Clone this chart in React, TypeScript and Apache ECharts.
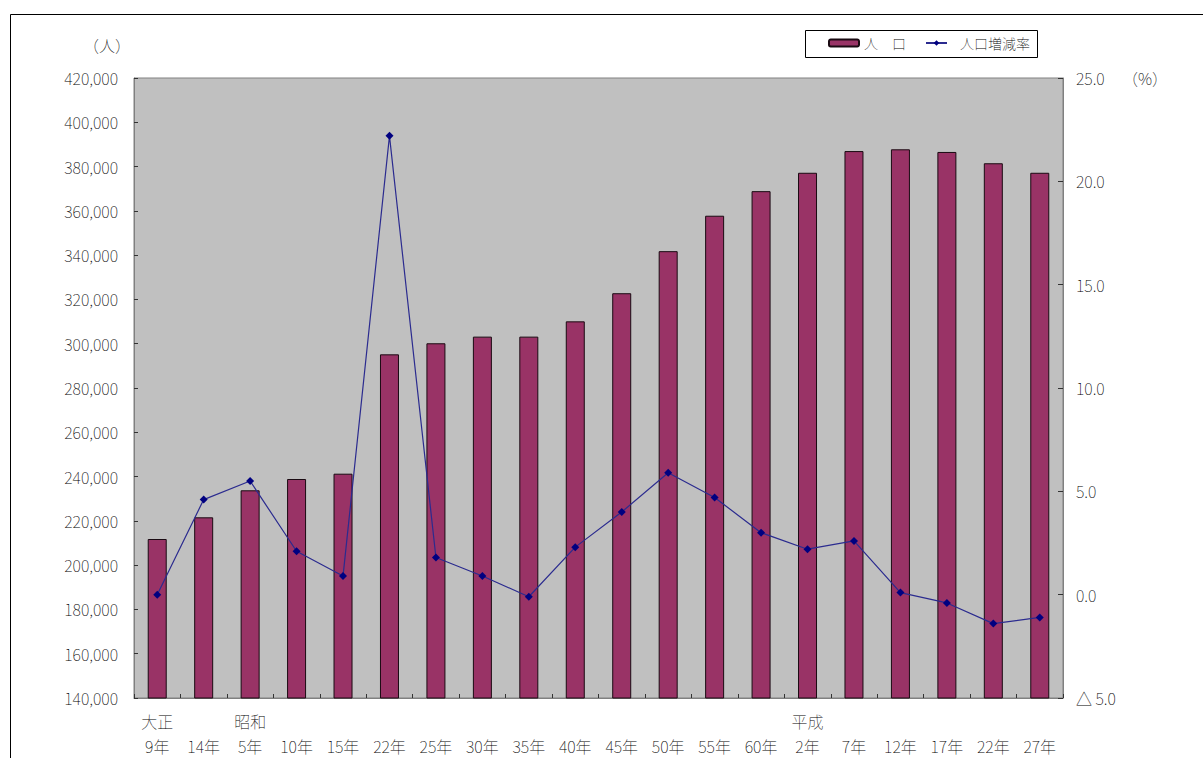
import React, { useEffect, useRef } from 'react';
import * as echarts from 'echarts';

const FONT = '"Noto Sans CJK JP", "Noto Sans", sans-serif';

const eraOf = ['大正', '大正', '昭和', '昭和', '昭和', '昭和', '昭和', '昭和', '昭和', '昭和', '昭和', '昭和', '昭和', '昭和', '平成', '平成', '平成', '平成', '平成', '平成'];
const yearLabels = ['9年', '14年', '5年', '10年', '15年', '22年', '25年', '30年', '35年', '40年', '45年', '50年', '55年', '60年', '2年', '7年', '12年', '17年', '22年', '27年'];
const categories = eraOf.map((e, i) => e + yearLabels[i]);

const population = [211800, 221600, 233800, 238900, 241300, 295200, 300200, 303200, 303200, 310100, 322800, 341800, 357800, 368900, 377200, 387000, 387800, 386600, 381500, 377200];
const growthRate = [0.0, 4.6, 5.5, 2.1, 0.9, 22.2, 1.8, 0.9, -0.1, 2.3, 4.0, 5.9, 4.7, 3.0, 2.2, 2.6, 0.1, -0.4, -1.4, -1.1];

const seriesNames = ['人　口', '人口増減率'];

function fmtThousands(v: number): string {
  return String(v).replace(/\B(?=(\d{3})+(?!\d))/g, ',');
}

export default function App() {
  const ref = useRef<HTMLDivElement>(null);
  useEffect(() => {
    if (!ref.current) return;
    const chart = echarts.init(ref.current, null, { renderer: 'svg' });
    const labelStyle = { fontFamily: FONT, fontSize: 16, color: '#000', fontWeight: 'lighter' };
    chart.setOption({
      animation: false,
      backgroundColor: '#ffffff',
      grid: {
        left: 134,
        right: 140,
        top: 78,
        bottom: 60,
        show: true,
        backgroundColor: '#C0C0C0',
        borderColor: '#808080',
        borderWidth: 1,
      },
      legend: [
        {
          data: [seriesNames[0]],
          left: 828,
          top: 36,
          padding: 0,
          itemWidth: 30,
          itemHeight: 7,
          selectedMode: false,
          textStyle: { fontFamily: FONT, fontSize: 14, color: '#000', fontWeight: 'lighter' },
        },
        {
          data: [seriesNames[1]],
          left: 925,
          top: 36,
          padding: 0,
          itemWidth: 21,
          itemHeight: 7,
          selectedMode: false,
          textStyle: { fontFamily: FONT, fontSize: 14, color: '#000', fontWeight: 'lighter', padding: [0, 0, 0, 8] },
        },
      ],
      xAxis: {
        type: 'category',
        data: categories,
        boundaryGap: true,
        axisLine: { show: true, onZero: false, lineStyle: { color: '#808080' } },
        axisTick: { show: true, inside: true, length: 4, lineStyle: { color: '#333' } },
        axisLabel: {
          ...labelStyle,
          interval: 0,
          margin: 10,
          lineHeight: 25,
          formatter: (_v: string, i: number) => {
            const showEra = i === 0 || eraOf[i] !== eraOf[i - 1];
            return (showEra ? eraOf[i] : ' ') + '\n' + yearLabels[i];
          },
        },
        splitLine: { show: false },
      },
      yAxis: [
        {
          type: 'value',
          min: 140000,
          max: 420000,
          interval: 20000,
          axisLine: { show: true, lineStyle: { color: '#808080' } },
          axisTick: { show: true, inside: true, length: 4, lineStyle: { color: '#333' } },
          axisLabel: { ...labelStyle, margin: 16, formatter: (v: number) => fmtThousands(v) },
          splitLine: { show: false },
        },
        {
          type: 'value',
          min: -5,
          max: 25,
          interval: 5,
          position: 'right',
          axisLine: { show: true, lineStyle: { color: '#808080' } },
          axisTick: { show: true, inside: true, length: 5, lineStyle: { color: '#333' } },
          axisLabel: {
            ...labelStyle,
            margin: 13,
            formatter: (v: number) => (v < 0 ? '△ ' + Math.abs(v).toFixed(1) : v.toFixed(1)),
          },
          splitLine: { show: false },
        },
      ],
      series: [
        {
          name: seriesNames[0],
          type: 'bar',
          yAxisIndex: 0,
          data: population,
          barWidth: 19,
          itemStyle: { color: '#993366', borderColor: '#1a0a12', borderWidth: 1 },
        },
        {
          name: seriesNames[1],
          type: 'line',
          yAxisIndex: 1,
          data: growthRate,
          symbol: 'diamond',
          symbolSize: 8,
          lineStyle: { color: '#2b2b8f', width: 1.2 },
          itemStyle: { color: '#000080' },
          z: 5,
        },
      ],
      graphic: [
        {
          type: 'rect',
          shape: { x: 10.5, y: 14.5, width: 1260, height: 800 },
          style: { fill: 'none', stroke: '#000', lineWidth: 1 },
          silent: true,
        },
        {
          type: 'rect',
          shape: { x: 805.5, y: 30.5, width: 232, height: 27 },
          style: { fill: '#fff', stroke: '#000', lineWidth: 1 },
          z: 1,
          silent: true,
        },
        {
          type: 'text',
          x: 107,
          y: 45,
          style: { text: '（人）', fontFamily: FONT, fontSize: 16, fontWeight: 'lighter', fill: '#000', textAlign: 'center', textVerticalAlign: 'middle' },
        },
        {
          type: 'text',
          x: 1145,
          y: 78,
          style: { text: '（%）', fontFamily: FONT, fontSize: 16, fontWeight: 'lighter', fill: '#000', textAlign: 'center', textVerticalAlign: 'middle' },
        },
      ],
    });
    return () => chart.dispose();
  }, []);
  return (
    <div
      ref={ref}
      style={{ position: 'absolute', left: 0, top: 0, width: 1203, height: 758, background: '#fff' }}
    />
  );
}
